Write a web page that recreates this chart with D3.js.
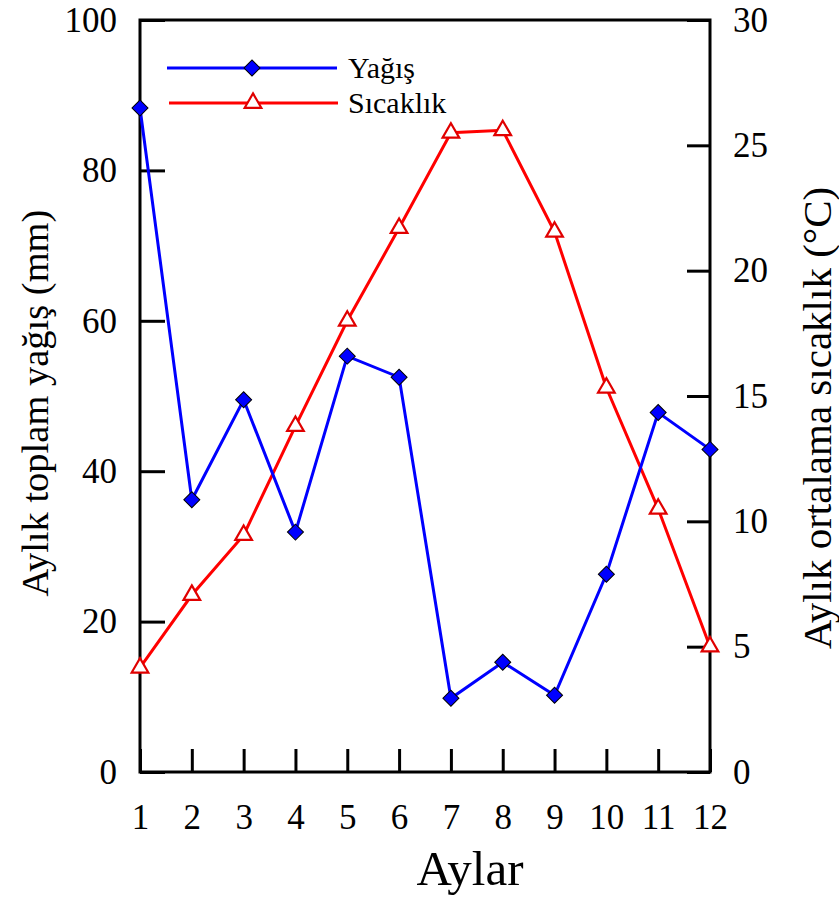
<!DOCTYPE html>
<html><head><meta charset="utf-8">
<script src="https://cdn.jsdelivr.net/npm/d3@7"></script>
<style>body{margin:0;background:#fff} svg{display:block}</style>
</head><body>
<svg id="c" width="839" height="900"></svg>
<script>
const months = [1,2,3,4,5,6,7,8,9,10,11,12];
const precipitation = [88.3, 36.2, 49.5, 31.9, 55.3, 52.5, 9.8, 14.6, 10.2, 26.3, 47.8, 42.9];
const temperature = [4.16, 7.06, 9.45, 13.8, 18.0, 21.7, 25.5, 25.6, 21.55, 15.33, 10.5, 5.0];
const leftTicks = [0,20,40,60,80,100];
const rightTicks = [0,5,10,15,20,25,30];
const seriesNames = ["Yağış","Sıcaklık"];
const xTitle = "Aylar";
const leftTitle = "Aylık toplam yağış (mm)";
const rightTitle = "Aylık ortalama sıcaklık (°C)";

const FONT = "'Liberation Serif','Times New Roman',serif";
const svg = d3.select("#c");
const L = 140, R = 710, T = 20, B = 772;
const x = d3.scaleLinear().domain([1,12]).range([L,R]);
const yL = d3.scaleLinear().domain([0,100]).range([B,T]);
const yR = d3.scaleLinear().domain([0,30]).range([B,T]);

function styleAxis(g){
  g.select(".domain").remove();
  g.selectAll(".tick line").attr("stroke","#000").attr("stroke-width",3);
  g.selectAll(".tick text").attr("fill","#000").style("font-family",FONT).style("font-size","35px");
}
svg.append("g").attr("transform",`translate(${L},0)`)
  .call(d3.axisLeft(yL).tickValues(leftTicks).tickSize(-25).tickPadding(23).tickFormat(d3.format("d")))
  .call(styleAxis);
svg.append("g").attr("transform",`translate(${R},0)`)
  .call(d3.axisRight(yR).tickValues(rightTicks).tickSize(-23).tickPadding(23).tickFormat(d3.format("d")))
  .call(styleAxis);
svg.append("g").attr("transform",`translate(0,${B})`)
  .call(d3.axisBottom(x).tickValues(months).tickSize(-23).tickPadding(32).tickFormat(d3.format("d")))
  .call(styleAxis);

svg.append("rect").attr("x",L).attr("y",T).attr("width",R-L).attr("height",B-T)
  .attr("fill","none").attr("stroke","#000").attr("stroke-width",3);

const lineP = d3.line().x((d,i)=>x(months[i])).y(d=>yL(d));
const lineT = d3.line().x((d,i)=>x(months[i])).y(d=>yR(d));
svg.append("path").datum(temperature).attr("d",lineT).attr("fill","none").attr("stroke","#ff0000").attr("stroke-width",3);
svg.append("path").datum(precipitation).attr("d",lineP).attr("fill","none").attr("stroke","#0000ff").attr("stroke-width",3);

const diamond = d3.symbol(d3.symbolSquare, 128);
const tri = d3.symbol(d3.symbolTriangle, 120);
svg.append("g").selectAll("path").data(temperature).join("path")
  .attr("d",tri).attr("transform",(d,i)=>`translate(${x(months[i])},${yR(d)})`)
  .attr("fill","#fff").attr("stroke","#e00000").attr("stroke-width",2.2);
svg.append("g").selectAll("path").data(precipitation).join("path")
  .attr("d",diamond).attr("transform",(d,i)=>`translate(${x(months[i])},${yL(d)}) rotate(45)`)
  .attr("fill","#0000ff").attr("stroke","#000").attr("stroke-width",1);

// legend
const lg = svg.append("g");
const legendRows = [{name:seriesNames[0], color:"#0000ff", sym:"d", y:68, x1:167, x2:337, mx:252},
                    {name:seriesNames[1], color:"#ff0000", sym:"t", y:103, x1:169, x2:338, mx:253}];
legendRows.forEach(r=>{
  lg.append("line").attr("x1",r.x1).attr("x2",r.x2).attr("y1",r.y).attr("y2",r.y).attr("stroke",r.color).attr("stroke-width",3);
  if(r.sym==="d") lg.append("path").attr("d",diamond).attr("transform",`translate(${r.mx},${r.y}) rotate(45)`).attr("fill","#0000ff").attr("stroke","#000").attr("stroke-width",1);
  else lg.append("path").attr("d",tri).attr("transform",`translate(${r.mx},${r.y})`).attr("fill","#fff").attr("stroke","#e00000").attr("stroke-width",2.2);
  lg.append("text").attr("x",348).attr("y",r.y+10).text(r.name).style("font-family",FONT).style("font-size","30px");
});

svg.append("text").attr("x",470).attr("y",885).attr("text-anchor","middle").text(xTitle)
  .style("font-family",FONT).style("font-size","49px");
svg.append("text").attr("transform","translate(48,403) rotate(-90)").attr("text-anchor","middle").text(leftTitle)
  .style("font-family",FONT).style("font-size","38.5px");
svg.append("text").attr("transform","translate(831,418) rotate(-90)").attr("text-anchor","middle").text(rightTitle)
  .style("font-family",FONT).style("font-size","41px");
</script>
</body></html>
